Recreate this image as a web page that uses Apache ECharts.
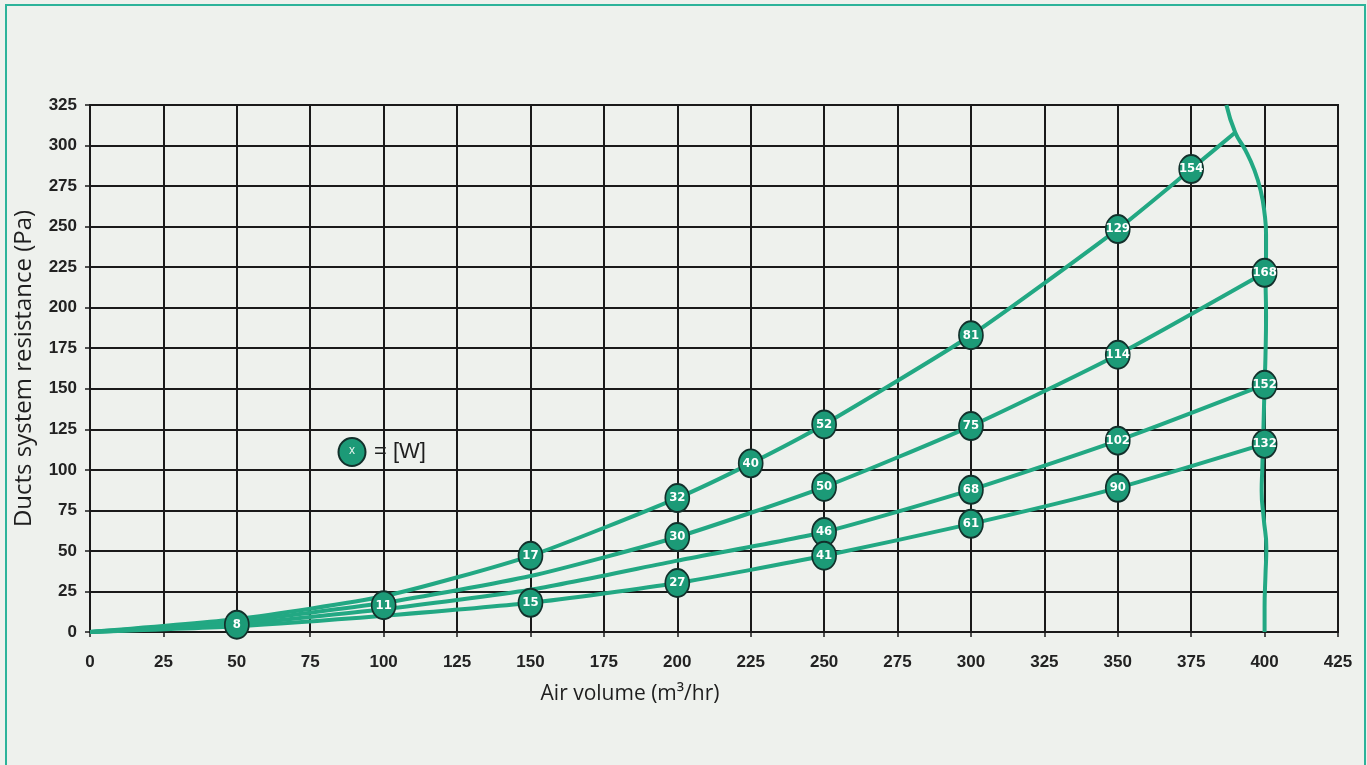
<!DOCTYPE html>
<html>
<head>
<meta charset="utf-8">
<script src="https://cdn.jsdelivr.net/npm/echarts@6/dist/echarts.min.js"></script>
<style>
html,body{margin:0;padding:0;background:#eef1ed;}
#c{width:1367px;height:765px;}
</style>
</head>
<body>
<div id="c"></div>
<script>
// ---- data ----
var xTicks = [0,25,50,75,100,125,150,175,200,225,250,275,300,325,350,375,400,425];
var yTicks = [0,25,50,75,100,125,150,175,200,225,250,275,300,325];

var curve1X = [0,50,100,150,200,225,250,300,350,375,390];
var curve1Y = [0,8,22,47,82.6,104,128,183,248.5,285.5,308];
var curve2X = [0,50,100,150,200,250,300,350,400];
var curve2Y = [0,6.5,18,34.5,58.6,89.4,127,171,221.5];
var curve3X = [0,50,100,150,200,250,300,350,400];
var curve3Y = [0,5,14,26,44,61.7,87.7,118,152.5];
var curve4X = [0,50,100,150,200,250,300,350,400];
var curve4Y = [0,3.5,10,18,30.2,47,66.7,88.9,116];

var fanX = [387,390,393.5,396.5,398.7,400,400.5,400.5,400.3,400.5,400.3,400,399.6,399.2,399,399.7,400.6,400.3,400,400];
var fanY = [325,308,297,285,272,258,245,233,221.5,195,170,152.5,125,100,87,70,52,35,15,0];

var markerX = [50,100,150,200,225,250,300,350,375, 200,250,300,350,400, 250,300,350,400, 150,200,250,300,350,400];
var markerY = [4.5,16.5,47,82.6,104,128,183,248.5,285.5, 58.6,89.4,127,171,221.5, 61.7,87.7,118,152.5, 18,30.2,47,66.7,88.9,116];
var markerW = [8,11,17,32,40,52,81,129,154, 30,50,75,114,168, 46,68,102,152, 15,27,41,61,90,132];

// ---- build ----
function zip(xs, ys){ return xs.map(function(x,i){ return [x, ys[i]]; }); }
var lineColor = '#22a883';
var markFill = '#1c9a77';
var markBorder = '#12302b';

function curve(xs, ys, smooth){
  return {type:'line', data: zip(xs, ys), showSymbol:false, symbol:'none', smooth: smooth,
    lineStyle:{color:lineColor, width:4}, z:3, silent:true};
}

var markerData = markerX.map(function(x,i){ return [x, markerY[i], markerW[i]]; });

var chart = echarts.init(document.getElementById('c'));
chart.setOption({
  backgroundColor:'#eef1ed',
  animation:false,
  grid:{left:90, right:29, top:105, bottom:133, show:true, borderColor:'#1a1a1a', borderWidth:2, backgroundColor:'transparent'},
  xAxis:{type:'value', min:0, max:425, interval:25,
    name:'Air volume (m\u00b3/hr)', nameLocation:'middle', nameGap:52,
    nameTextStyle:{fontFamily:'Open Sans', fontSize:21, color:'#1e1e1e', padding:[0,168,0,0]},
    axisLine:{show:true, lineStyle:{color:'#1a1a1a', width:2}},
    axisTick:{show:true, length:5, lineStyle:{color:'#1a1a1a', width:1.5}},
    axisLabel:{fontFamily:'Liberation Sans', fontSize:17, fontWeight:'bold', color:'#222222', margin:22,
      formatter:function(v){ return xTicks.indexOf(v) >= 0 ? String(v) : ''; }},
    splitLine:{show:true, lineStyle:{color:'#1a1a1a', width:2}}
  },
  yAxis:{type:'value', min:0, max:325, interval:25,
    name:'Ducts system resistance (Pa)', nameLocation:'middle', nameGap:54,
    nameTextStyle:{fontFamily:'Open Sans', fontSize:24, color:'#1e1e1e'},
    axisLine:{show:true, lineStyle:{color:'#1a1a1a', width:2}},
    axisTick:{show:true, length:5, lineStyle:{color:'#1a1a1a', width:1.5}},
    axisLabel:{fontFamily:'Liberation Sans', fontSize:17, fontWeight:'bold', color:'#222222', margin:13,
      formatter:function(v){ return yTicks.indexOf(v) >= 0 ? String(v) : ''; }},
    splitLine:{show:true, lineStyle:{color:'#1a1a1a', width:2}}
  },
  graphic:[
    {type:'rect', shape:{x:6, y:5, width:1359, height:775}, style:{fill:'none', stroke:'#2db39a', lineWidth:2}, z:0, silent:true},
    {type:'ellipse', shape:{cx:352, cy:452, rx:13.5, ry:14}, style:{fill:markFill, stroke:markBorder, lineWidth:2}, z:20},
    {type:'text', x:352, y:451, style:{text:'x', fill:'#e8f5ef', font:'12px "Liberation Sans"', textAlign:'center', textVerticalAlign:'middle'}, z:21},
    {type:'text', x:374, y:452, style:{text:'= [W]', fill:'#1e1e1e', font:'22px "Liberation Sans"', textAlign:'left', textVerticalAlign:'middle'}, z:21}
  ],
  series:[
    curve(curve1X, curve1Y, 0.2),
    curve(curve2X, curve2Y, 0.2),
    curve(curve3X, curve3Y, 0.2),
    curve(curve4X, curve4Y, 0.2),
    curve(fanX, fanY, 0.5),
    {type:'scatter', data: markerData, symbol:'circle', symbolSize:[24,28], z:10, silent:true,
      itemStyle:{color:markFill, borderColor:markBorder, borderWidth:1.8, opacity:1},
      label:{show:true, position:'inside', formatter:function(p){ return String(p.data[2]); },
        color:'#ffffff', fontFamily:'DejaVu Sans Condensed', fontWeight:'bold', fontSize:13}
    }
  ]
});
</script>
</body>
</html>
